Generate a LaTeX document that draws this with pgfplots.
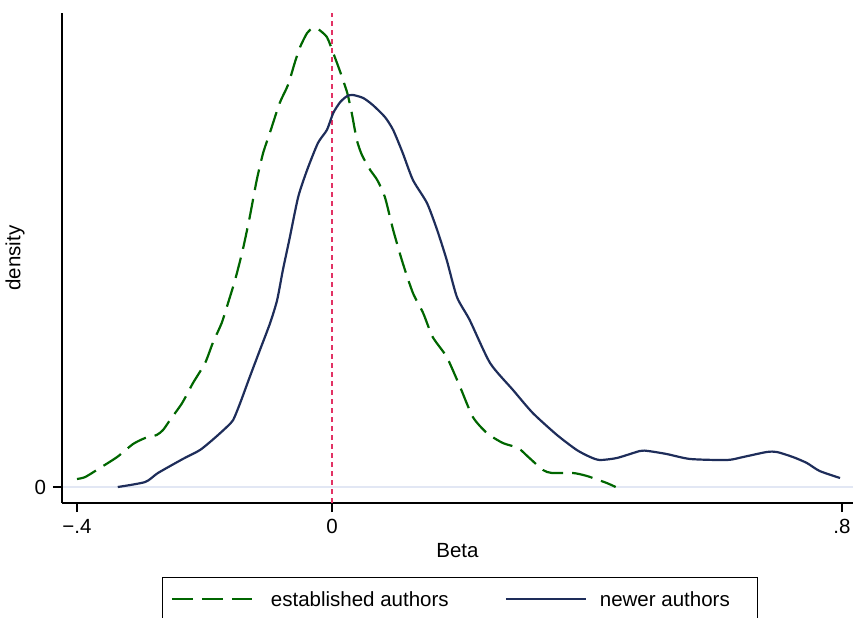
\documentclass[border=0pt]{standalone}
\usepackage{pgfplots}
\pgfplotsset{compat=1.18}
\usepackage{fontspec}
\setmainfont{Liberation Sans}
\definecolor{estgreen}{RGB}{0,102,0}
\definecolor{newnavy}{RGB}{30,45,90}
\definecolor{refred}{RGB}{226,50,100}
\definecolor{gridc}{RGB}{226,231,244}
\begin{document}
\begin{tikzpicture}[font=\fontsize{10.25}{12}\selectfont]
\path[use as bounding box] (-31pt,-57pt) rectangle (395.5pt,251.5pt);
\begin{axis}[
  at={(0pt,0pt)}, anchor=south west,
  scale only axis, width=395.5pt, height=245pt,
  xmin=-0.4235, xmax=0.8173, ymin=-0.16, ymax=4.74,
  axis x line*=bottom, axis y line*=left,
  axis line style={-, line width=0.6pt, black},
  xtick={-0.4,0,0.8}, xticklabels={−.4,0,.8},
  ytick={0}, yticklabels={0},
  tick align=outside, major tick length=4.5pt,
  tick style={black, line width=0.6pt},
  ymajorgrids, grid style={gridc, line width=1pt},
  tick label style={font=\fontsize{10.25}{12}\selectfont},
  xlabel={Beta}, ylabel={density},
  label style={font=\fontsize{10.25}{12}\selectfont},
  xlabel style={at={(axis description cs:0.5,-0.098)}, anchor=center},
  ylabel style={at={(axis description cs:-0.0594,0.5)}, anchor=center, rotate=0},
  legend columns=2,
  legend style={at={(axis description cs:0.5035,-0.151)}, anchor=north,
    draw=black, line width=0.5pt, inner xsep=4pt, inner ysep=7pt,
    font=\fontsize{10.25}{12}\selectfont,
    nodes={inner sep=0pt, anchor=base west},
    /tikz/every odd column/.append style={column sep=9pt},
    /tikz/every even column/.append style={column sep=28pt}},
  legend image code/.code={\draw[#1] (0pt,0.35em) -- (40pt,0.35em);},
  clip=false,
]
\addplot[refred, line width=0.7pt, dash pattern=on 2.5pt off 2pt, forget plot]
  coordinates {(0,-0.16) (0,4.74)};
\addplot[estgreen, line width=1.1pt, dash pattern=on 10.5pt off 4.5pt, smooth, tension=0.4]
  coordinates {
(-0.400,0.08) (-0.387,0.10) (-0.364,0.19) (-0.337,0.30) (-0.312,0.43)
(-0.293,0.49) (-0.275,0.52) (-0.265,0.57) (-0.254,0.67) (-0.235,0.84)
(-0.218,1.04) (-0.199,1.24) (-0.187,1.44) (-0.173,1.64) (-0.163,1.84)
(-0.152,2.07) (-0.140,2.37) (-0.129,2.70) (-0.118,3.07) (-0.108,3.34)
(-0.097,3.55) (-0.082,3.84) (-0.069,4.02) (-0.058,4.25) (-0.050,4.40)
(-0.039,4.54) (-0.030,4.59) (-0.022,4.58) (-0.008,4.50) (0.002,4.34)
(0.013,4.15) (0.024,3.94) (0.031,3.74) (0.039,3.47) (0.047,3.32)
(0.060,3.17) (0.071,3.07) (0.083,2.90) (0.096,2.57) (0.111,2.24)
(0.127,1.94) (0.143,1.74) (0.158,1.50) (0.180,1.30) (0.201,1.00)
(0.221,0.70) (0.243,0.54) (0.268,0.44) (0.292,0.39) (0.308,0.30)
(0.331,0.17) (0.345,0.14) (0.378,0.14) (0.400,0.11) (0.431,0.04)
(0.445,0.00)
  };
\addlegendentry{established authors}
\addplot[newnavy, line width=1.1pt, smooth, tension=0.4]
  coordinates {
(-0.336,0.00) (-0.293,0.05) (-0.273,0.14) (-0.234,0.28) (-0.207,0.37)
(-0.184,0.49) (-0.165,0.60) (-0.155,0.67) (-0.144,0.84) (-0.129,1.10)
(-0.113,1.37) (-0.097,1.64) (-0.086,1.87) (-0.077,2.17) (-0.066,2.50)
(-0.053,2.90) (-0.039,3.17) (-0.022,3.44) (-0.008,3.57) (0.002,3.74)
(0.013,3.85) (0.024,3.91) (0.033,3.92) (0.049,3.89) (0.064,3.82)
(0.083,3.70) (0.096,3.57) (0.111,3.34) (0.127,3.07) (0.149,2.84)
(0.165,2.57) (0.180,2.27) (0.196,1.90) (0.216,1.67) (0.248,1.24)
(0.284,0.97) (0.315,0.74) (0.353,0.52) (0.384,0.37) (0.405,0.30)
(0.420,0.27) (0.447,0.29) (0.483,0.36) (0.496,0.36) (0.525,0.33)
(0.562,0.28) (0.620,0.27) (0.645,0.30) (0.682,0.35) (0.698,0.35)
(0.723,0.30) (0.745,0.24) (0.765,0.16) (0.797,0.09)
  };
\addlegendentry{\kern-2.5pt newer authors\kern10pt}
\end{axis}
\end{tikzpicture}
\end{document}
